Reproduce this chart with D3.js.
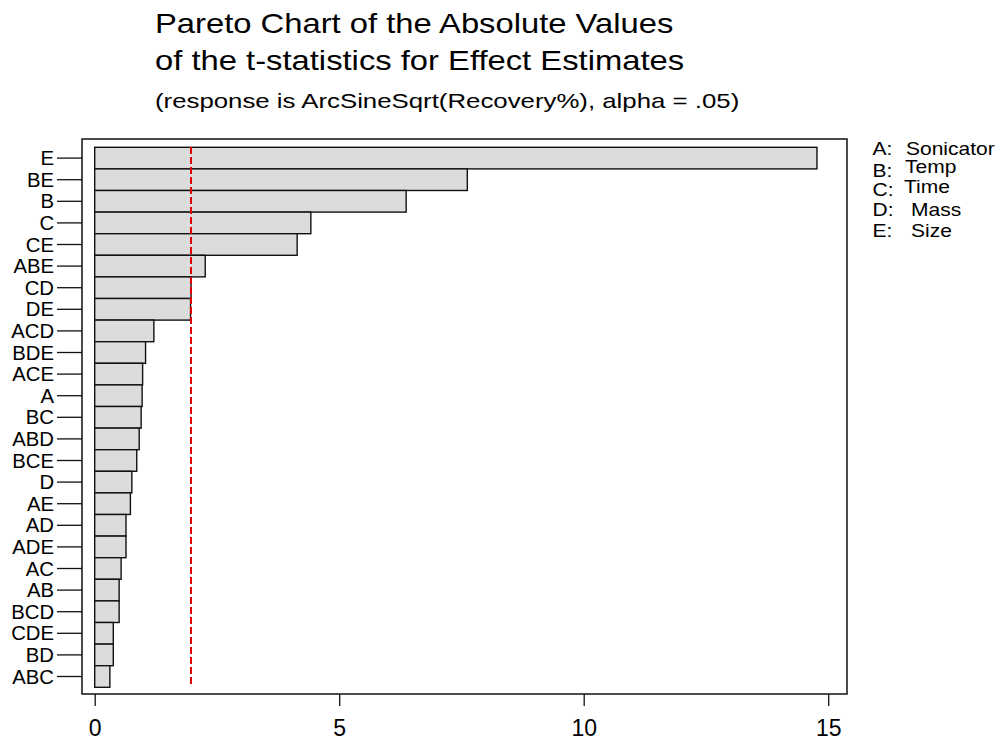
<!DOCTYPE html>
<html>
<head>
<meta charset="utf-8">
<script src="https://cdn.jsdelivr.net/npm/d3@7"></script>
<style>
  html, body { margin: 0; padding: 0; background: #fff; }
  svg { display: block; font-family: "Liberation Sans", Arial, Helvetica, sans-serif; }
</style>
</head>
<body>
<svg id="chart" width="1006" height="740"></svg>
<script>
// Effect terms, ordered from largest to smallest |t|
const terms = ["E", "BE", "B", "C", "CE", "ABE", "CD", "DE", "ACD", "BDE", "ACE", "A", "BC",
               "ABD", "BCE", "D", "AE", "AD", "ADE", "AC", "AB", "BCD", "CDE", "BD", "ABC"];
// Absolute t-statistics for each term
const tValues = [14.77, 7.62, 6.37, 4.42, 4.14, 2.26, 1.97, 1.96, 1.21, 1.04, 0.98, 0.97, 0.95,
                 0.91, 0.86, 0.76, 0.73, 0.64, 0.64, 0.54, 0.50, 0.50, 0.38, 0.38, 0.31];
// Critical t value (alpha = .05)
const tCritical = 1.97;
// x-axis ticks
const xTicks = [0, 5, 10, 15];
// Factor key
const factorKeys = ["A:", "B:", "C:", "D:", "E:"];
const factorNames = ["Sonicator", "Temp", "Time", "Mass", "Size"];

const titleLines = ["Pareto Chart of the Absolute Values", "of the t-statistics for Effect Estimates"];
const subtitle = "(response is ArcSineSqrt(Recovery%), alpha = .05)";

const svg = d3.select("#chart");

// Frame and plotting area
const frame = { left: 82, right: 847, top: 139, bottom: 694 };
const x = d3.scaleLinear().domain([0, 15]).range([94.7, 828.2]);
const y = d3.scaleBand().domain(terms).range([147.3, 687.3]).padding(0);

// Text helper with horizontal stretch
function stretchedText(g, str, tx, ty, size, sx, anchor) {
  return g.append("text")
    .attr("transform", `translate(${tx},${ty}) scale(${sx},1)`)
    .attr("font-size", size)
    .attr("text-anchor", anchor || "start")
    .attr("fill", "#000")
    .text(str);
}

// Titles
const titleG = svg.append("g");
titleLines.forEach((t, i) => stretchedText(titleG, t, 155, 32.5 + i * 37, 28, 1.17));
stretchedText(titleG, subtitle, 155, 108, 20, 1.29);

// Bars
svg.append("g").selectAll("rect")
  .data(terms)
  .join("rect")
  .attr("x", x(0))
  .attr("y", d => y(d))
  .attr("width", (d, i) => x(tValues[i]) - x(0))
  .attr("height", y.bandwidth())
  .attr("fill", "#dcdcdc")
  .attr("stroke", "#111")
  .attr("stroke-width", 1.4);

// Reference line at the critical value
svg.append("line")
  .attr("x1", x(tCritical)).attr("x2", x(tCritical))
  .attr("y1", y.range()[0]).attr("y2", y.range()[1])
  .attr("stroke", "#e00000")
  .attr("stroke-width", 1.2)
  .attr("shape-rendering", "crispEdges")
  .attr("stroke-dasharray", "7,3");

// Frame around the plotting area
svg.append("rect")
  .attr("x", frame.left).attr("y", frame.top)
  .attr("width", frame.right - frame.left).attr("height", frame.bottom - frame.top)
  .attr("fill", "none")
  .attr("stroke", "#111")
  .attr("stroke-width", 1.5);

// y axis ticks and labels
const labelStretch = 1.04;
const yAxis = d3.axisLeft(y).tickSize(25).tickPadding(3);
const yG = svg.append("g").attr("transform", `translate(${frame.left},0)`).call(yAxis);
yG.select(".domain").remove();
yG.selectAll(".tick line").attr("stroke", "#111").attr("stroke-width", 1.3);
yG.selectAll(".tick text")
  .attr("font-size", 19.5)
  .attr("font-family", "'Liberation Sans', Arial, sans-serif")
  .attr("fill", "#000")
  .attr("dy", "0.36em")
  .attr("x", -28 / labelStretch)
  .attr("transform", `scale(${labelStretch},1)`);

// x axis ticks and labels
const xAxis = d3.axisBottom(x).tickValues(xTicks).tickFormat(d3.format("d")).tickSize(12).tickPadding(14);
const xG = svg.append("g").attr("transform", `translate(0,${frame.bottom})`).call(xAxis);
xG.select(".domain").remove();
xG.selectAll(".tick line").attr("stroke", "#111").attr("stroke-width", 1.3);
xG.selectAll(".tick text")
  .attr("font-size", 23)
  .attr("font-family", "'Liberation Sans', Arial, sans-serif")
  .attr("fill", "#000");

// Factor key to the right of the plot
const keyG = svg.append("g");
const keyBase = [155, 177, 195.5, 216, 237];
const nameBase = [155, 172.5, 192.5, 216, 237];
const nameX = [906, 905, 904, 911, 911];
factorKeys.forEach((k, i) => {
  stretchedText(keyG, k, 872.5, keyBase[i], 17.5, 1.2);
  stretchedText(keyG, factorNames[i], nameX[i], nameBase[i], 17.5, 1.2);
});
</script>
</body>
</html>
